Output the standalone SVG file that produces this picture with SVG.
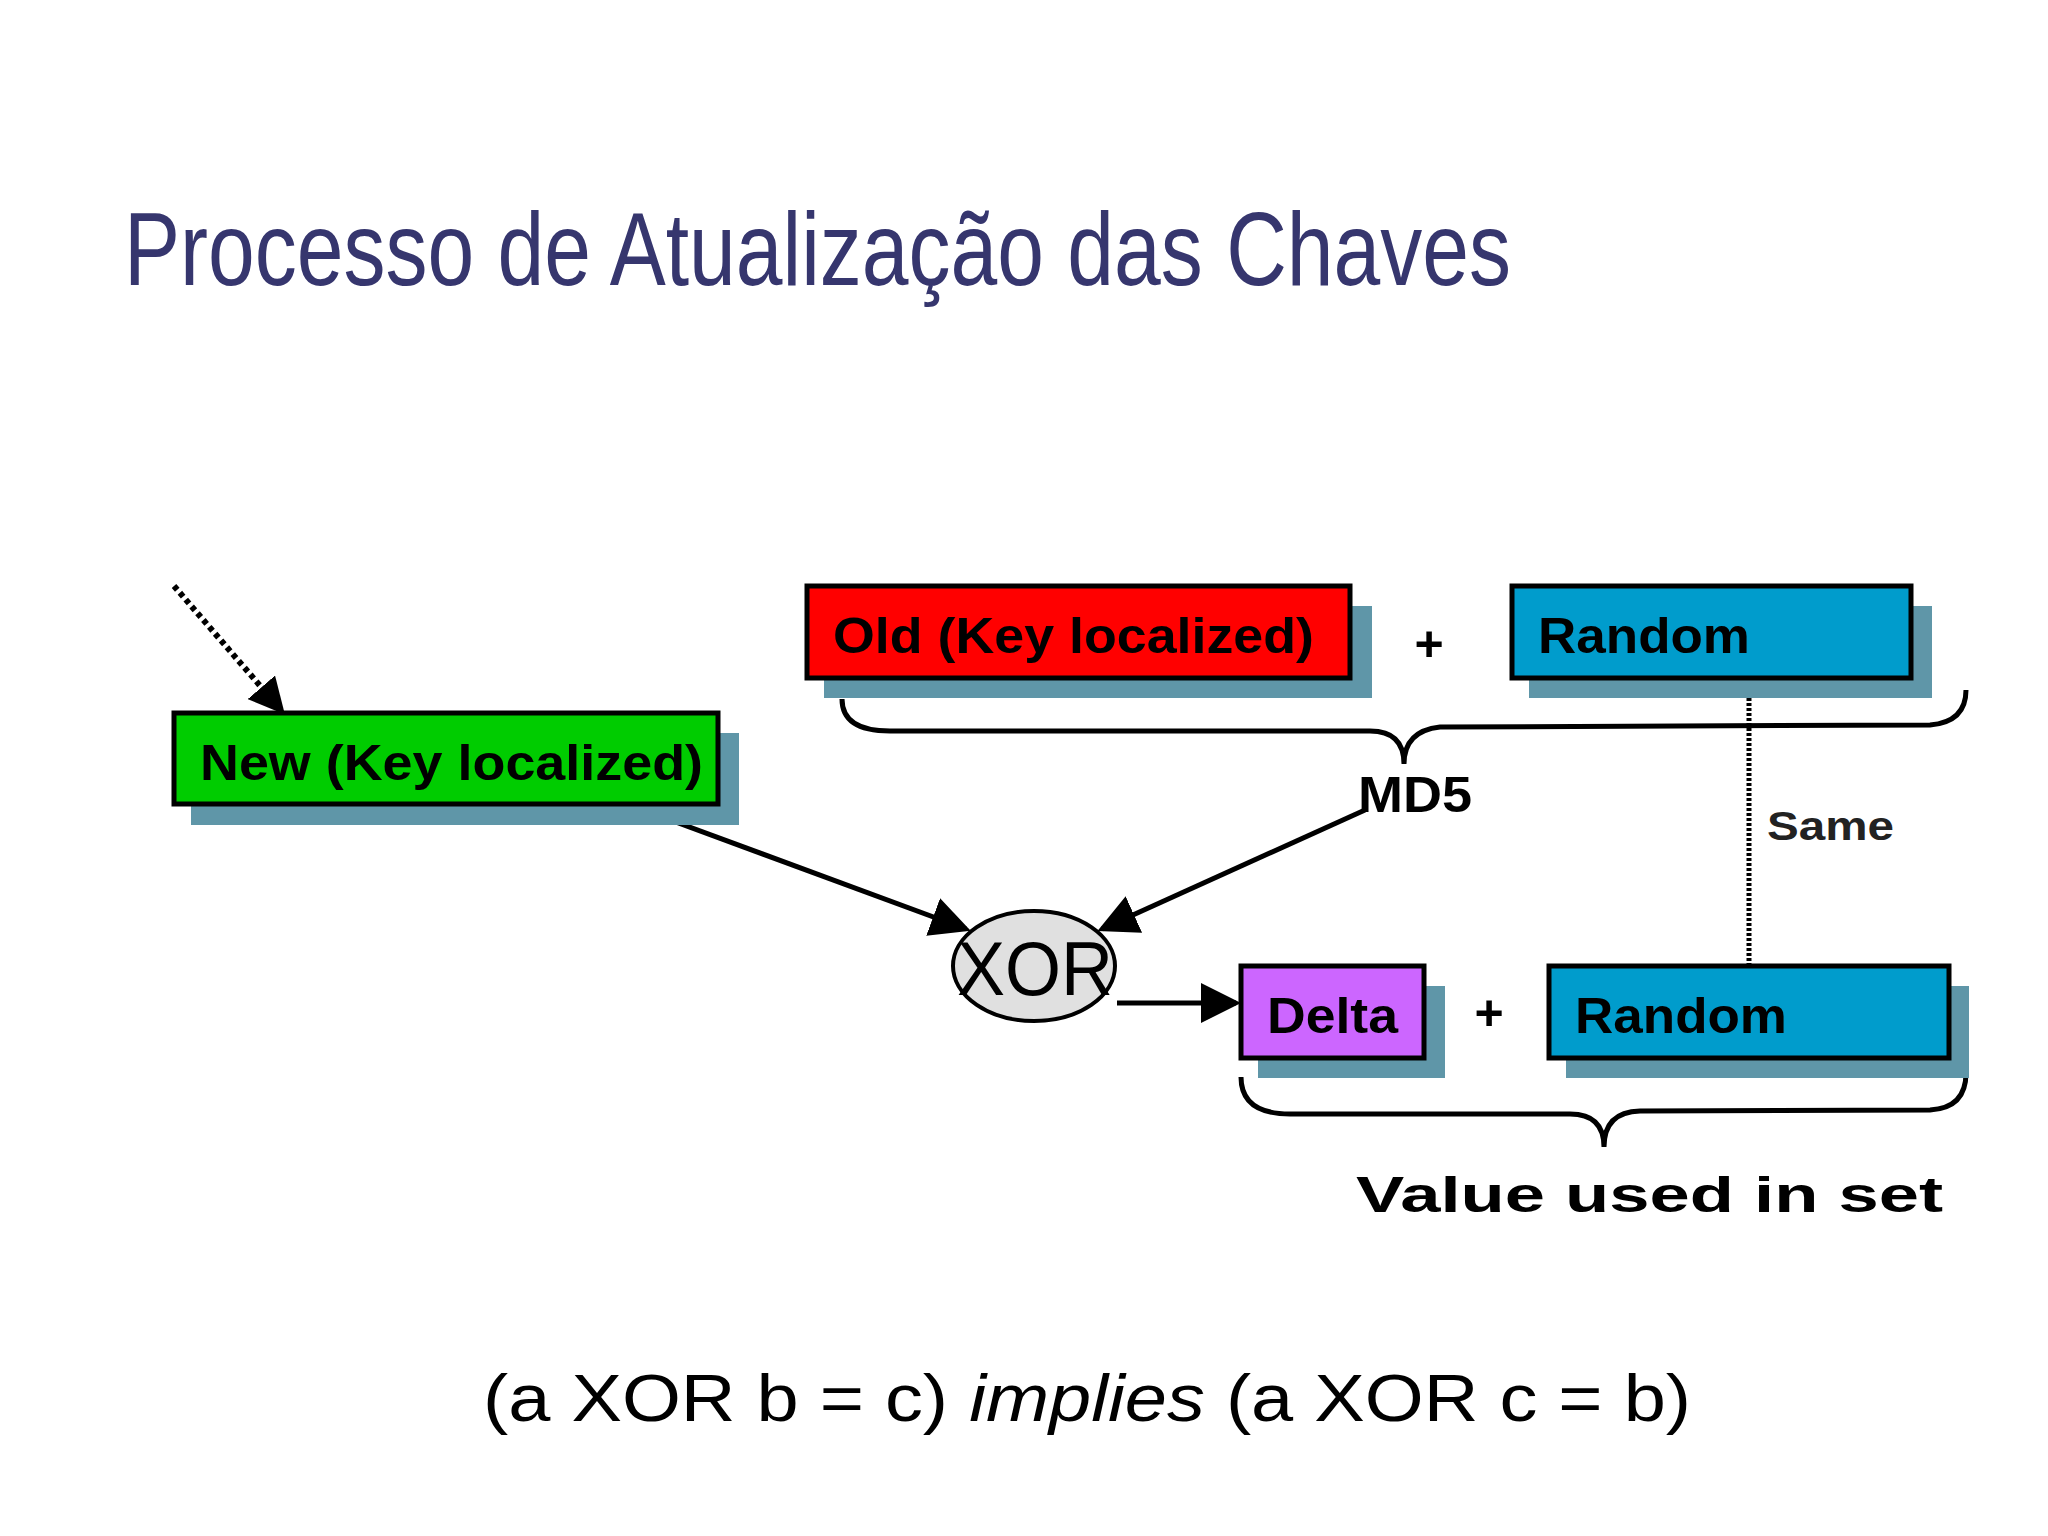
<svg xmlns="http://www.w3.org/2000/svg" width="2048" height="1536" viewBox="0 0 2048 1536">
<defs>
<style>
.t{font-family:"Liberation Sans",Arial,sans-serif;font-weight:bold;font-size:50px;fill:#000}
.sh{fill:#5f96a8}
.bx{stroke:#000;stroke-width:5}
.ln{stroke:#000;stroke-width:5;fill:none}
</style>
<marker id="ah" markerWidth="8" markerHeight="8" refX="7" refY="4" orient="auto" markerUnits="strokeWidth"><path d="M0,0 L8,4 L0,8 z" fill="#000"/></marker>
<marker id="ah2" markerWidth="6" markerHeight="6" refX="5" refY="3" orient="auto" markerUnits="strokeWidth"><path d="M0,0 L6,3 L0,6 z" fill="#000"/></marker>
</defs>
<rect width="2048" height="1536" fill="#fff"/>
<text x="124" y="285" font-family="Liberation Sans, Arial, sans-serif" font-size="104" fill="#36366e" textLength="1387" lengthAdjust="spacingAndGlyphs">Processo de Atualização das Chaves</text>
<g id="connectors">
<line x1="174" y1="586" x2="281" y2="710" stroke="#000" stroke-width="6" stroke-dasharray="5,4" marker-end="url(#ah2)"/>
<line class="ln" x1="627" y1="804" x2="966" y2="929" marker-end="url(#ah)"/>
<line class="ln" x1="1365" y1="810" x2="1102" y2="929" marker-end="url(#ah)"/>
<line class="ln" x1="1117" y1="1003" x2="1236" y2="1003" marker-end="url(#ah)"/>
<line x1="1749" y1="678" x2="1749" y2="966" stroke="#000" stroke-width="5" stroke-dasharray="3,2"/>
<path class="ln" d="M842,699 Q842,731 890,731 L1370,731 Q1404,731 1404,764 Q1404,731 1440,727 L1930,725 Q1966,722 1966,690" stroke-width="4"/>
<path class="ln" d="M1241,1077 Q1241,1114 1290,1114 L1570,1114 Q1604,1114 1604,1147 Q1604,1112 1640,1111 L1930,1110 Q1966,1108 1966,1073" stroke-width="4"/>
</g>
<g id="new"><rect class="sh" x="191" y="733" width="548" height="92"/><rect class="bx" x="174" y="713" width="544" height="91" fill="#00cc00"/><text class="t" x="200" y="780" textLength="503" lengthAdjust="spacingAndGlyphs">New (Key localized)</text></g>
<g id="old"><rect class="sh" x="824" y="606" width="548" height="92"/><rect class="bx" x="807" y="586" width="543" height="92" fill="#ff0000"/><text class="t" x="833" y="653" textLength="481" lengthAdjust="spacingAndGlyphs">Old (Key localized)</text></g>
<text class="t" x="1429" y="661" text-anchor="middle">+</text>
<g id="random1"><rect class="sh" x="1529" y="606" width="403" height="92"/><rect class="bx" x="1512" y="586" width="399" height="92" fill="#009ccc"/><text class="t" x="1538" y="653" textLength="212" lengthAdjust="spacingAndGlyphs">Random</text></g>
<text class="t" x="1358" y="812" font-size="46" textLength="114" lengthAdjust="spacingAndGlyphs">MD5</text>
<text x="1767" y="840" font-family="Liberation Sans, Arial, sans-serif" font-weight="bold" font-size="40" fill="#222" textLength="127" lengthAdjust="spacingAndGlyphs">Same</text>
<g id="xor"><ellipse cx="1034" cy="966" rx="81" ry="55" fill="#e0e0e0" stroke="#000" stroke-width="4"/><text x="1035" y="995" text-anchor="middle" font-family="Liberation Sans, Arial, sans-serif" font-size="76" fill="#000" textLength="156" lengthAdjust="spacingAndGlyphs">XOR</text></g>
<g id="delta"><rect class="sh" x="1258" y="986" width="187" height="92"/><rect class="bx" x="1241" y="966" width="183" height="92" fill="#cc66ff"/><text class="t" x="1267" y="1033" textLength="131" lengthAdjust="spacingAndGlyphs">Delta</text></g>
<text class="t" x="1489" y="1030" text-anchor="middle">+</text>
<g id="random2"><rect class="sh" x="1566" y="986" width="403" height="92"/><rect class="bx" x="1549" y="966" width="400" height="92" fill="#009ccc"/><text class="t" x="1575" y="1033" textLength="212" lengthAdjust="spacingAndGlyphs">Random</text></g>
<text class="t" x="1356" y="1212" font-size="68" textLength="587" lengthAdjust="spacingAndGlyphs">Value used in set</text>
<text x="483" y="1421" font-family="Liberation Sans, Arial, sans-serif" font-size="67" fill="#000" textLength="1208" lengthAdjust="spacingAndGlyphs">(a XOR b = c) <tspan font-style="italic">implies</tspan> (a XOR c = b)</text>
</svg>
